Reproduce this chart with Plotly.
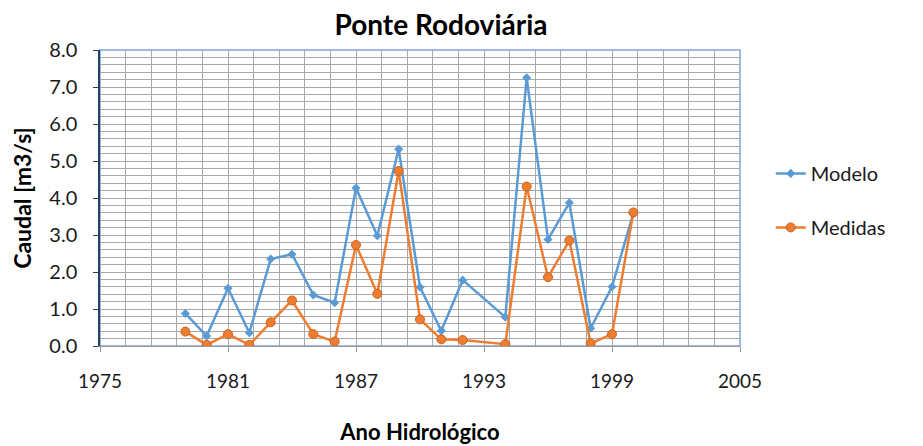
import plotly.graph_objects as go

anos_modelo = [1979, 1980, 1981, 1982, 1983, 1984, 1985, 1986, 1987, 1988, 1989, 1990,
               1991, 1992, 1994, 1995, 1996, 1997, 1998, 1999, 2000]
modelo = [0.88, 0.27, 1.56, 0.36, 2.35, 2.48, 1.38, 1.17, 4.27, 2.98, 5.32, 1.59,
          0.41, 1.78, 0.78, 7.25, 2.88, 3.87, 0.48, 1.60, 3.59]
anos_medidas = anos_modelo
medidas = [0.39, 0.03, 0.32, 0.03, 0.64, 1.23, 0.32, 0.12, 2.73, 1.41, 4.73, 0.72,
           0.18, 0.16, 0.05, 4.31, 1.86, 2.85, 0.07, 0.32, 3.61]

FONT = "Lato"
W, H = 915, 438  # page body has an 8px default margin
fig = go.Figure()
fig.add_trace(go.Scatter(
    x=anos_modelo, y=modelo, name="Modelo", mode="lines+markers",
    line=dict(color="#5B9BD5", width=2.5),
    marker=dict(symbol="diamond", size=7, color="#5B9BD5"),
    legendgroup="a"))
fig.add_trace(go.Scatter(
    x=anos_medidas, y=medidas, name="Medidas", mode="lines+markers",
    line=dict(color="#ED7D31", width=2.5),
    marker=dict(symbol="circle", size=9, color="#ED7D31",
                line=dict(color="#D0611C", width=1)),
    legendgroup="b"))

grid = "#A8A8A8"
fig.update_layout(
    width=W, height=H,
    margin=dict(l=92, r=183, t=42, b=100),
    paper_bgcolor="white", plot_bgcolor="white",
    font=dict(family=FONT, size=19, color="#1a1a1a"),
    title=dict(text="<b>Ponte Rodoviária</b>", x=433/W, xanchor="center",
               xref="container", yref="container",
               y=1 - 17/H, yanchor="middle", font=dict(size=28, color="#000")),
    legend=dict(x=1.048, y=0.649, xanchor="left", yanchor="top",
                tracegroupgap=25, font=dict(size=20, color="#1a1a1a"),
                bgcolor="rgba(0,0,0,0)"),
    xaxis=dict(
        range=[1975, 2005], tick0=1975, dtick=6, tickformat="d",
        showgrid=True, gridcolor=grid, gridwidth=1,
        ticks="outside", ticklen=5, tickcolor="#999",
        ticklabelstandoff=13, automargin=False,
        showline=True, linecolor="#999", linewidth=1,
        zeroline=False,
        minor=dict(dtick=1.2, tick0=1975, showgrid=True, gridcolor=grid, gridwidth=1, ticks=""),
        title=dict(text="<b>Ano Hidrológico</b>", font=dict(size=22, color="#000"), standoff=33),
    ),
    yaxis=dict(
        range=[0, 8], tick0=0, dtick=1, tickformat=".1f",
        showgrid=True, gridcolor=grid, gridwidth=1,
        ticks="outside", ticklen=5, tickcolor="#243F60",
        ticklabelstandoff=12, automargin=False, tickfont=dict(size=20),
        showline=True, linecolor="#243F60", linewidth=1.5,
        zeroline=False,
        minor=dict(dtick=0.2, tick0=0, showgrid=True, gridcolor=grid, gridwidth=1, ticks=""),
        title=dict(text="<b>Caudal [m3/s]</b>", font=dict(size=23, color="#000"), standoff=20),
    ),
)
fig.add_shape(type="rect", xref="paper", yref="paper", x0=0, y0=0, x1=1, y1=1,
              line=dict(color="#7FA7D9", width=1.5), layer="below")
fig.write_html("out.html")
